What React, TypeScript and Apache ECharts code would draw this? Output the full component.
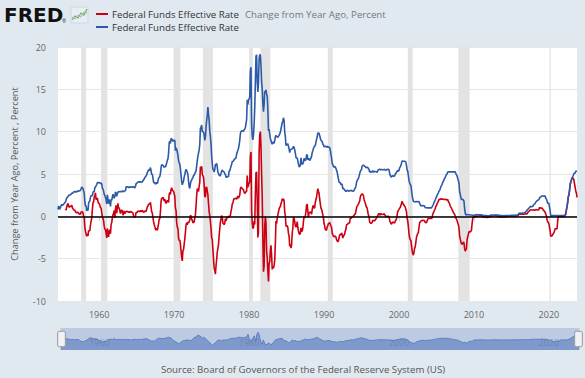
import React, { useEffect, useRef } from "react";
import * as echarts from "echarts";

// Monthly series, first value = July 1954 (level) / July 1955 (change)
const LEVEL_START_YEAR = 1954.5;
const CHANGE_START_YEAR = 1955.5;

// Federal Funds Effective Rate, Percent (monthly)
const fedFundsRate = [
  0.80, 1.22, 1.07, 0.85, 0.83, 1.28,
  1.39, 1.29, 1.35, 1.43, 1.43, 1.64, 1.68, 1.96, 2.18, 2.24, 2.35, 2.48,
  2.45, 2.50, 2.50, 2.62, 2.75, 2.71, 2.75, 2.73, 2.95, 2.96, 2.88, 2.94,
  2.84, 3.00, 2.96, 3.00, 3.00, 3.00, 2.99, 3.24, 3.47, 3.50, 3.28, 2.98,
  2.72, 1.67, 1.20, 1.26, 0.63, 0.93, 0.68, 1.53, 1.76, 1.80, 2.27, 2.42,
  2.48, 2.43, 2.80, 2.96, 2.90, 3.39, 3.47, 3.50, 3.76, 3.98, 4.00, 3.99,
  3.99, 3.97, 3.84, 3.92, 3.85, 3.32, 3.23, 2.98, 2.60, 2.47, 2.44, 1.98,
  1.45, 2.54, 2.02, 1.49, 1.98, 1.73, 1.17, 2.00, 1.88, 2.26, 2.62, 2.33,
  2.15, 2.37, 2.85, 2.78, 2.36, 2.68, 2.71, 2.93, 2.90, 2.90, 2.94, 2.93,
  2.92, 3.00, 2.98, 2.90, 3.00, 2.99, 3.02, 3.49, 3.48, 3.50, 3.48, 3.38,
  3.48, 3.48, 3.43, 3.47, 3.50, 3.50, 3.42, 3.50, 3.45, 3.36, 3.52, 3.85,
  3.90, 3.98, 4.04, 4.09, 4.10, 4.04, 4.09, 4.12, 4.01, 4.08, 4.10, 4.32,
  4.42, 4.60, 4.65, 4.67, 4.90, 5.17, 5.30, 5.53, 5.40, 5.53, 5.76, 5.40,
  4.94, 5.00, 4.53, 4.05, 3.94, 3.98, 3.79, 3.90, 3.99, 3.88, 4.13, 4.51,
  4.60, 4.71, 5.05, 5.76, 6.11, 6.07, 6.02, 6.03, 5.78, 5.91, 5.82, 6.02,
  6.30, 6.61, 6.79, 7.41, 8.67, 8.90, 8.61, 9.19, 9.15, 9.00, 8.85, 8.97,
  8.98, 8.98, 7.76, 8.10, 7.94, 7.60, 7.21, 6.61, 6.29, 6.20, 5.60, 4.90,
  4.14, 3.72, 3.71, 4.16, 4.63, 4.91, 5.31, 5.56, 5.55, 5.20, 4.91, 4.14,
  3.50, 3.29, 3.83, 4.17, 4.27, 4.46, 4.55, 4.80, 4.87, 5.04, 5.06, 5.33,
  5.94, 6.58, 7.09, 7.12, 7.84, 8.49, 10.40, 10.50, 10.78, 10.01, 10.03, 9.95,
  9.65, 8.97, 9.35, 10.51, 11.31, 11.93, 12.92, 12.01, 11.34, 10.06, 9.45, 8.53,
  7.13, 6.24, 5.54, 5.49, 5.22, 5.55, 6.10, 6.14, 6.24, 5.82, 5.22, 5.20,
  4.87, 4.77, 4.84, 4.82, 5.29, 5.48, 5.31, 5.29, 5.25, 5.02, 4.95, 4.65,
  4.61, 4.68, 4.69, 4.73, 5.35, 5.39, 5.42, 5.90, 6.14, 6.47, 6.51, 6.56,
  6.70, 6.78, 6.79, 6.89, 7.36, 7.60, 7.81, 8.04, 8.45, 8.96, 9.76, 10.03,
  10.07, 10.06, 10.09, 10.01, 10.24, 10.29, 10.47, 10.94, 11.43, 13.77, 13.18, 13.78,
  13.82, 14.13, 17.19, 17.61, 10.98, 9.47, 9.03, 9.61, 10.87, 12.81, 15.85, 18.90,
  19.08, 15.93, 14.70, 15.72, 18.52, 19.10, 19.04, 17.82, 15.87, 15.08, 13.31, 12.37,
  13.22, 14.78, 14.68, 14.94, 14.45, 14.15, 12.59, 10.12, 10.31, 9.71, 9.20, 8.95,
  8.68, 8.51, 8.77, 8.80, 8.63, 8.98, 9.37, 9.56, 9.45, 9.48, 9.34, 9.47,
  9.56, 9.59, 9.91, 10.29, 10.32, 11.06, 11.23, 11.64, 11.30, 9.99, 9.43, 8.38,
  8.35, 8.50, 8.58, 8.27, 7.97, 7.53, 7.88, 7.90, 7.92, 7.99, 8.05, 8.27,
  8.14, 7.86, 7.48, 6.99, 6.85, 6.92, 6.56, 6.17, 5.89, 5.85, 6.04, 6.91,
  6.43, 6.10, 6.13, 6.37, 6.85, 6.73, 6.58, 6.73, 7.22, 7.29, 6.69, 6.77,
  6.83, 6.58, 6.58, 6.87, 7.09, 7.51, 7.75, 8.01, 8.19, 8.30, 8.35, 8.76,
  9.12, 9.36, 9.85, 9.84, 9.81, 9.53, 9.24, 8.99, 9.02, 8.84, 8.55, 8.45,
  8.23, 8.24, 8.28, 8.26, 8.18, 8.29, 8.15, 8.13, 8.20, 8.11, 7.81, 7.31,
  6.91, 6.25, 6.12, 5.91, 5.78, 5.90, 5.82, 5.66, 5.45, 5.21, 4.81, 4.43,
  4.03, 4.06, 3.98, 3.73, 3.82, 3.76, 3.25, 3.30, 3.22, 3.10, 3.09, 2.92,
  3.02, 3.03, 3.07, 2.96, 3.00, 3.04, 3.06, 3.03, 3.09, 2.99, 3.02, 2.96,
  3.05, 3.25, 3.34, 3.56, 4.01, 4.25, 4.26, 4.47, 4.73, 4.76, 5.29, 5.45,
  5.53, 5.92, 5.98, 6.05, 6.01, 6.00, 5.85, 5.74, 5.80, 5.76, 5.80, 5.60,
  5.56, 5.22, 5.31, 5.22, 5.24, 5.27, 5.40, 5.22, 5.30, 5.24, 5.31, 5.29,
  5.25, 5.19, 5.39, 5.51, 5.50, 5.56, 5.52, 5.54, 5.54, 5.50, 5.52, 5.50,
  5.56, 5.51, 5.49, 5.45, 5.49, 5.56, 5.54, 5.55, 5.51, 5.07, 4.83, 4.68,
  4.63, 4.76, 4.81, 4.74, 4.74, 4.76, 4.99, 5.07, 5.22, 5.20, 5.42, 5.30,
  5.45, 5.73, 5.85, 6.02, 6.27, 6.53, 6.54, 6.50, 6.52, 6.51, 6.51, 6.40,
  5.98, 5.49, 5.31, 4.80, 4.21, 3.97, 3.77, 3.65, 3.07, 2.49, 2.09, 1.82,
  1.73, 1.74, 1.73, 1.75, 1.75, 1.75, 1.73, 1.74, 1.75, 1.75, 1.34, 1.24,
  1.24, 1.26, 1.25, 1.26, 1.26, 1.22, 1.01, 1.03, 1.01, 1.01, 1.00, 0.98,
  1.00, 1.01, 1.00, 1.00, 1.00, 1.03, 1.26, 1.43, 1.61, 1.76, 1.93, 2.16,
  2.28, 2.50, 2.63, 2.79, 3.00, 3.04, 3.26, 3.50, 3.62, 3.78, 4.00, 4.16,
  4.29, 4.49, 4.59, 4.79, 4.94, 4.99, 5.24, 5.25, 5.25, 5.25, 5.25, 5.24,
  5.25, 5.26, 5.26, 5.25, 5.25, 5.25, 5.26, 5.02, 4.94, 4.76, 4.49, 4.24,
  3.94, 2.98, 2.61, 2.28, 1.98, 2.00, 2.01, 2.00, 1.81, 0.97, 0.39, 0.16,
  0.15, 0.22, 0.18, 0.15, 0.18, 0.21, 0.16, 0.16, 0.15, 0.12, 0.12, 0.12,
  0.11, 0.13, 0.16, 0.20, 0.20, 0.18, 0.18, 0.19, 0.19, 0.19, 0.19, 0.18,
  0.17, 0.16, 0.14, 0.10, 0.09, 0.09, 0.07, 0.10, 0.08, 0.07, 0.08, 0.07,
  0.08, 0.10, 0.13, 0.14, 0.16, 0.16, 0.16, 0.13, 0.14, 0.16, 0.16, 0.16,
  0.14, 0.15, 0.14, 0.15, 0.11, 0.09, 0.09, 0.08, 0.08, 0.09, 0.08, 0.09,
  0.07, 0.07, 0.08, 0.09, 0.09, 0.10, 0.09, 0.09, 0.09, 0.09, 0.09, 0.12,
  0.11, 0.11, 0.11, 0.12, 0.12, 0.13, 0.13, 0.14, 0.14, 0.12, 0.12, 0.24,
  0.34, 0.38, 0.36, 0.37, 0.37, 0.38, 0.39, 0.40, 0.40, 0.40, 0.41, 0.54,
  0.65, 0.66, 0.79, 0.90, 0.91, 1.04, 1.15, 1.16, 1.15, 1.15, 1.16, 1.30,
  1.41, 1.42, 1.51, 1.69, 1.70, 1.82, 1.91, 1.91, 1.95, 2.19, 2.20, 2.27,
  2.40, 2.40, 2.41, 2.42, 2.39, 2.38, 2.40, 2.13, 2.04, 1.83, 1.55, 1.55,
  1.55, 1.58, 0.65, 0.05, 0.05, 0.08, 0.09, 0.10, 0.09, 0.09, 0.09, 0.09,
  0.09, 0.08, 0.07, 0.07, 0.06, 0.08, 0.10, 0.09, 0.08, 0.08, 0.08, 0.08,
  0.08, 0.08, 0.20, 0.33, 0.77, 1.21, 1.68, 2.33, 2.56, 3.08, 3.78, 4.10,
  4.33, 4.57, 4.65, 4.83, 5.06, 5.08, 5.12, 5.33, 5.33, 5.33,
];

// Federal Funds Effective Rate, Change from Year Ago, Percent (monthly)
const changeFromYearAgo = [
  0.88, 0.74, 1.11, 1.39, 1.52, 1.20,
  1.06, 1.21, 1.15, 1.19, 1.32, 1.07, 1.07, 0.77, 0.77, 0.72, 0.53, 0.46,
  0.39, 0.50, 0.46, 0.38, 0.25, 0.29, 0.24, 0.51, 0.52, 0.54, 0.40, 0.04,
  -0.12, -1.33, -1.76, -1.74, -2.37, -2.07, -2.31, -1.71, -1.71, -1.70, -1.01, -0.56,
  -0.24, 0.76, 1.60, 1.70, 2.27, 2.46, 2.79, 1.97, 2.00, 2.18, 1.73, 1.57,
  1.51, 1.54, 1.04, 0.96, 0.95, -0.07, -0.24, -0.52, -1.16, -1.51, -1.56, -2.01,
  -2.54, -1.43, -1.82, -2.43, -1.87, -1.59, -2.06, -0.98, -0.72, -0.21, 0.18, 0.35,
  0.70, -0.17, 0.83, 1.29, 0.38, 0.95, 1.54, 0.93, 1.02, 0.64, 0.32, 0.60,
  0.77, 0.63, 0.13, 0.12, 0.64, 0.31, 0.31, 0.56, 0.58, 0.60, 0.54, 0.45,
  0.56, 0.48, 0.45, 0.57, 0.50, 0.51, 0.40, 0.01, -0.03, -0.14, 0.04, 0.47,
  0.42, 0.50, 0.61, 0.62, 0.60, 0.54, 0.67, 0.62, 0.56, 0.72, 0.58, 0.47,
  0.52, 0.62, 0.61, 0.58, 0.80, 1.13, 1.21, 1.41, 1.39, 1.45, 1.66, 1.08,
  0.52, 0.40, -0.12, -0.62, -0.96, -1.19, -1.51, -1.63, -1.41, -1.65, -1.63, -0.89,
  -0.34, -0.29, 0.52, 1.71, 2.17, 2.09, 2.23, 2.13, 1.79, 2.03, 1.69, 1.51,
  1.70, 1.90, 1.74, 1.65, 2.56, 2.83, 2.59, 3.16, 3.37, 3.09, 3.03, 2.95,
  2.68, 2.37, 0.97, 0.69, -0.73, -1.30, -1.40, -2.58, -2.86, -2.80, -3.25, -4.07,
  -4.84, -5.26, -4.05, -3.94, -3.31, -2.69, -1.90, -1.05, -0.74, -1.00, -0.69, -0.76,
  -0.64, -0.43, 0.12, 0.01, -0.36, -0.45, -0.76, -0.76, -0.68, -0.16, 0.15, 1.19,
  2.44, 3.29, 3.26, 2.95, 3.57, 4.03, 5.85, 5.70, 5.91, 4.97, 4.97, 4.62,
  3.71, 2.39, 2.26, 3.39, 3.47, 3.44, 2.52, 1.51, 0.56, 0.05, -0.58, -1.42,
  -2.52, -2.73, -3.81, -5.02, -6.09, -6.38, -6.82, -5.87, -5.10, -4.24, -4.23, -3.33,
  -2.26, -1.47, -0.70, -0.67, 0.07, -0.07, -0.79, -0.85, -0.99, -0.80, -0.27, -0.55,
  -0.26, -0.09, -0.15, -0.09, 0.06, -0.09, 0.11, 0.61, 0.89, 1.45, 1.56, 1.91,
  2.09, 2.10, 2.10, 2.16, 2.01, 2.21, 2.39, 2.14, 2.31, 2.49, 3.25, 3.47,
  3.37, 3.28, 3.30, 3.12, 2.88, 2.69, 2.66, 2.90, 2.98, 4.81, 3.42, 3.75,
  3.75, 4.07, 7.10, 7.60, 0.74, -0.82, -1.44, -1.33, -0.56, -0.96, 2.67, 5.12,
  5.26, 1.80, -2.49, -1.89, 7.54, 9.63, 10.01, 8.21, 5.00, 2.27, -2.54, -6.53,
  -5.86, -1.15, -0.02, -0.78, -4.07, -4.95, -6.45, -7.70, -5.56, -5.37, -4.11, -3.42,
  -4.54, -6.27, -5.91, -6.14, -5.82, -5.17, -3.22, -0.56, -0.86, -0.23, 0.14, 0.52,
  0.88, 1.08, 1.14, 1.49, 1.69, 2.08, 1.86, 2.08, 1.85, 0.51, 0.09, -1.09,
  -1.21, -1.09, -1.33, -2.02, -2.35, -3.53, -3.35, -3.74, -3.38, -2.00, -1.38, -0.11,
  -0.21, -0.64, -1.10, -1.28, -1.12, -0.61, -1.32, -1.73, -2.03, -2.14, -2.01, -1.36,
  -1.71, -1.76, -1.35, -0.62, 0.00, -0.19, 0.02, 0.56, 1.33, 1.44, 0.65, -0.14,
  0.40, 0.48, 0.45, 0.50, 0.24, 0.78, 1.17, 1.28, 0.97, 1.01, 1.66, 1.99,
  2.29, 2.78, 3.27, 2.97, 2.72, 2.02, 1.49, 0.98, 0.83, 0.54, 0.20, -0.31,
  -0.89, -1.12, -1.57, -1.58, -1.63, -1.24, -1.09, -0.86, -0.82, -0.73, -0.74, -1.14,
  -1.32, -1.99, -2.16, -2.35, -2.40, -2.39, -2.33, -2.47, -2.75, -2.90, -3.00, -2.88,
  -2.88, -2.19, -2.14, -2.18, -1.96, -2.14, -2.57, -2.36, -2.23, -2.11, -1.72, -1.51,
  -1.01, -1.03, -0.91, -0.77, -0.82, -0.72, -0.19, -0.27, -0.13, -0.11, -0.07, 0.04,
  0.03, 0.22, 0.27, 0.60, 1.01, 1.21, 1.20, 1.44, 1.64, 1.77, 2.27, 2.49,
  2.48, 2.67, 2.64, 2.49, 2.00, 1.75, 1.59, 1.27, 1.07, 1.00, 0.51, 0.15,
  0.03, -0.70, -0.67, -0.83, -0.77, -0.73, -0.45, -0.52, -0.50, -0.52, -0.49, -0.31,
  -0.31, -0.03, 0.08, 0.29, 0.26, 0.29, 0.12, 0.32, 0.24, 0.26, 0.21, 0.21,
  0.31, 0.32, 0.10, -0.06, -0.01, 0.00, 0.02, 0.01, -0.03, -0.43, -0.69, -0.82,
  -0.93, -0.75, -0.68, -0.71, -0.75, -0.80, -0.55, -0.48, -0.29, 0.13, 0.59, 0.62,
  0.82, 0.97, 1.04, 1.28, 1.53, 1.77, 1.55, 1.43, 1.30, 1.31, 1.09, 1.10,
  0.53, -0.24, -0.54, -1.22, -2.06, -2.56, -2.77, -2.85, -3.45, -4.02, -4.42, -4.58,
  -4.25, -3.75, -3.58, -3.05, -2.46, -2.22, -2.04, -1.91, -1.32, -0.74, -0.75, -0.58,
  -0.49, -0.48, -0.48, -0.49, -0.49, -0.53, -0.72, -0.71, -0.74, -0.74, -0.34, -0.26,
  -0.24, -0.25, -0.25, -0.26, -0.26, -0.19, 0.25, 0.40, 0.60, 0.75, 0.93, 1.18,
  1.28, 1.49, 1.63, 1.79, 2.00, 2.01, 2.00, 2.07, 2.01, 2.02, 2.07, 2.00,
  2.01, 1.99, 1.96, 2.00, 1.94, 1.95, 1.98, 1.75, 1.63, 1.47, 1.25, 1.08,
  0.96, 0.77, 0.67, 0.46, 0.31, 0.26, 0.02, -0.23, -0.31, -0.49, -0.76, -1.00,
  -1.31, -2.28, -2.65, -2.97, -3.27, -3.25, -3.25, -3.02, -3.13, -3.79, -4.10, -4.08,
  -3.79, -2.76, -2.43, -2.13, -1.80, -1.79, -1.85, -1.84, -1.66, -0.85, -0.27, -0.04,
  -0.04, -0.09, -0.02, 0.05, 0.02, -0.03, 0.02, 0.03, 0.04, 0.07, 0.07, 0.06,
  0.06, 0.03, -0.02, -0.10, -0.11, -0.09, -0.11, -0.09, -0.11, -0.12, -0.11, -0.11,
  -0.09, -0.06, -0.01, 0.04, 0.07, 0.07, 0.09, 0.03, 0.06, 0.09, 0.08, 0.09,
  0.06, 0.05, 0.01, 0.01, -0.05, -0.07, -0.07, -0.05, -0.06, -0.07, -0.08, -0.07,
  -0.07, -0.08, -0.06, -0.06, -0.02, 0.01, 0.00, 0.01, 0.01, 0.00, 0.01, 0.03,
  0.04, 0.04, 0.03, 0.03, 0.03, 0.03, 0.04, 0.05, 0.05, 0.03, 0.03, 0.12,
  0.23, 0.27, 0.25, 0.25, 0.25, 0.25, 0.26, 0.26, 0.26, 0.28, 0.29, 0.30,
  0.31, 0.28, 0.43, 0.53, 0.54, 0.66, 0.76, 0.76, 0.75, 0.75, 0.75, 0.76,
  0.76, 0.76, 0.72, 0.79, 0.79, 0.78, 0.76, 0.75, 0.80, 1.04, 1.04, 0.97,
  0.99, 0.98, 0.90, 0.73, 0.69, 0.56, 0.49, 0.22, 0.09, -0.36, -0.65, -0.72,
  -0.85, -0.82, -1.76, -2.37, -2.34, -2.30, -2.31, -2.03, -1.95, -1.74, -1.46, -1.46,
  -1.46, -1.50, -0.58, 0.02, 0.01, 0.00, 0.01, -0.01, -0.01, -0.01, -0.01, -0.01,
  -0.01, 0.00, 0.13, 0.26, 0.71, 1.13, 1.58, 2.24, 2.48, 3.00, 3.70, 4.02,
  4.25, 4.49, 4.45, 4.50, 4.29, 3.87, 3.44, 3.00, 2.77, 2.25,
];

// US recessions (decimal years)
const recessionStarts = [1957.58, 1960.25, 1969.92, 1973.83, 1980.0, 1981.5, 1990.5, 2001.17, 2007.92, 2020.08];
const recessionEnds = [1958.25, 1961.08, 1970.83, 1975.17, 1980.5, 1982.83, 1991.17, 2001.83, 2009.42, 2020.25];

const xTickYears = [1960, 1970, 1980, 1990, 2000, 2010, 2020];
const navigatorYears = [1960, 1980, 2000, 2020];
const X_MIN = 1954.5;
const X_MAX = 2023.75;
const Y_MIN = -10;
const Y_MAX = 20;
const Y_STEP = 5;

const seriesNames = ["Federal Funds Effective Rate", "Federal Funds Effective Rate"];
const changeUnits = "Change from Year Ago, Percent";
const yAxisTitle = "Change from Year Ago, Percent , Percent";
const sourceText = "Source: Board of Governors of the Federal Reserve System (US)";

const RED = "#cc0012";
const BLUE = "#2c5aa8";
const FONT = "'Open Sans', 'Noto Sans', sans-serif";

export default function App() {
  const ref = useRef<HTMLDivElement>(null);

  useEffect(() => {
    if (!ref.current) return;
    const chart = echarts.init(ref.current, null, { renderer: "svg" });
    const toPairs = (start: number, vals: number[]) => vals.map((v, i) => [start + i / 12, v]);
    const fmtYear = (v: number) => String(Math.round(v));
    const txt = (extra: any) => ({
      fontFamily: FONT,
      fontSize: 9.7,
      align: "left",
      verticalAlign: "middle",
      textAlign: "left",
      textVerticalAlign: "middle",
      ...extra,
    });

    const option: any = {
      animation: false,
      backgroundColor: "#e1e9f0",
      textStyle: { fontFamily: FONT },
      grid: [
        { left: 58, right: 8, top: 47, bottom: 77, show: true, backgroundColor: "#ffffff", borderWidth: 0 },
        { left: 58, right: 8, top: 328, height: 22, show: false },
      ],
      xAxis: [
        {
          type: "value",
          gridIndex: 0,
          min: X_MIN,
          max: X_MAX,
          axisLine: { show: true, lineStyle: { color: "#ccd6eb", width: 1 } },
          axisTick: { show: true, customValues: xTickYears, length: 5, lineStyle: { color: "#ccd6eb" } },
          axisLabel: { customValues: xTickYears, formatter: fmtYear, color: "#666666", fontSize: 9, fontFamily: FONT, margin: 9 },
          splitLine: { show: false },
        },
        {
          type: "value",
          gridIndex: 1,
          min: X_MIN,
          max: X_MAX,
          position: "top",
          z: 10,
          axisLine: { show: false },
          axisTick: { show: false },
          splitLine: { show: false },
          axisLabel: { inside: true, customValues: navigatorYears, formatter: fmtYear, color: "rgba(80,100,140,0.45)", fontSize: 9, fontFamily: FONT, margin: 10 },
        },
      ],
      yAxis: [
        {
          type: "value",
          gridIndex: 0,
          min: Y_MIN,
          max: Y_MAX,
          interval: Y_STEP,
          axisLine: { show: false },
          axisTick: { show: false },
          axisLabel: { color: "#666666", fontSize: 9, fontFamily: FONT, margin: 12 },
          splitLine: { lineStyle: { color: "#e6e6e6", width: 1 } },
        },
        { type: "value", gridIndex: 1, show: false },
      ],
      dataZoom: [
        {
          type: "slider",
          xAxisIndex: 0,
          filterMode: "none",
          start: 0,
          end: 100,
          left: 58,
          right: 8,
          top: 328,
          height: 22,
          showDetail: false,
          brushSelect: false,
          moveHandleSize: 0,
          zoomLock: true,
          borderColor: "transparent",
          backgroundColor: "rgba(0,0,0,0)",
          fillerColor: "rgba(102,133,194,0.3)",
          handleIcon:
            "path://M2,0 H8 A2,2 0 0 1 10,2 V18 A2,2 0 0 1 8,20 H2 A2,2 0 0 1 0,18 V2 A2,2 0 0 1 2,0 Z",
          handleSize: "70%",
          handleStyle: { color: "#f2f2f2", borderColor: "#999999", borderWidth: 1 },
          dataBackground: {
            lineStyle: { color: "#5b7cbd", width: 1, opacity: 1 },
            areaStyle: { color: "#7b97cd", opacity: 0.85 },
          },
          selectedDataBackground: {
            lineStyle: { color: "#5b7cbd", width: 1, opacity: 1 },
            areaStyle: { color: "#7b97cd", opacity: 0.85 },
          },
        },
      ],
      series: [
        {
          name: seriesNames[0] + " (" + changeUnits + ")",
          type: "line",
          xAxisIndex: 0,
          yAxisIndex: 0,
          data: toPairs(CHANGE_START_YEAR, changeFromYearAgo),
          showSymbol: false,
          symbol: "none",
          lineStyle: { color: RED, width: 1.6 },
          itemStyle: { color: RED },
          markArea: {
            silent: true,
            itemStyle: { color: "#e3e3e3" },
            data: recessionStarts.map((s, i) => [{ xAxis: s }, { xAxis: recessionEnds[i] }]),
          },
          z: 3,
        },
        {
          name: seriesNames[1],
          type: "line",
          xAxisIndex: 0,
          yAxisIndex: 0,
          data: toPairs(LEVEL_START_YEAR, fedFundsRate),
          showSymbol: false,
          symbol: "none",
          lineStyle: { color: BLUE, width: 1.6 },
          itemStyle: { color: BLUE },
          markLine: {
            silent: true,
            symbol: "none",
            label: { show: false },
            lineStyle: { color: "#000000", width: 1.5, type: "solid" },
            data: [{ yAxis: 0 }],
          },
          z: 4,
        },
      ],
      graphic: [
        { type: "text", left: 4, top: 5, style: { text: "FRED", fontFamily: "'DejaVu Sans'", fontWeight: "bold", fontSize: 20, fill: "#111111" } },
        { type: "text", left: 62, top: 18, style: { text: "®", fontFamily: FONT, fontSize: 5, fill: "#333333" } },
        { type: "rect", shape: { x: 71, y: 7, width: 17, height: 16, r: 1 }, style: { fill: "#e8edf2", stroke: "#c9d2db", lineWidth: 0.8 } },
        { type: "polyline", shape: { points: [[72, 20], [75, 16], [78, 18], [81, 13], [84, 15], [87, 9]] }, style: { stroke: "#7cb342", lineWidth: 1.2, fill: "none" } },
        { type: "polyline", shape: { points: [[72, 17], [75, 19], [78, 15], [81, 17], [84, 12], [87, 13]] }, style: { stroke: "#8fb7de", lineWidth: 1, fill: "none" } },
        { type: "line", shape: { x1: 96, y1: 14, x2: 108, y2: 14 }, style: { stroke: RED, lineWidth: 2 } },
        { type: "text", x: 112, y: 14, style: txt({ text: seriesNames[0], fill: "#333333" }) },
        { type: "text", x: 245, y: 14, style: txt({ text: changeUnits, fill: "#777777" }) },
        { type: "line", shape: { x1: 96, y1: 27, x2: 108, y2: 27 }, style: { stroke: BLUE, lineWidth: 2 } },
        { type: "text", x: 112, y: 27, style: txt({ text: seriesNames[1], fill: "#333333" }) },
        {
          type: "text",
          x: 14,
          y: 174,
          rotation: Math.PI / 2,
          style: txt({ text: yAxisTitle, fill: "#595959", fontSize: 9.2, align: "center", textAlign: "center" }),
        },
        { type: "text", x: 303, y: 369, style: txt({ text: sourceText, fill: "#555555", align: "center", textAlign: "center" }) },
      ],
    };

    chart.setOption(option);
    return () => chart.dispose();
  }, []);

  return (
    <div
      ref={ref}
      style={{ position: "absolute", left: 0, top: 0, width: 585, height: 378, background: "#e1e9f0" }}
    />
  );
}
